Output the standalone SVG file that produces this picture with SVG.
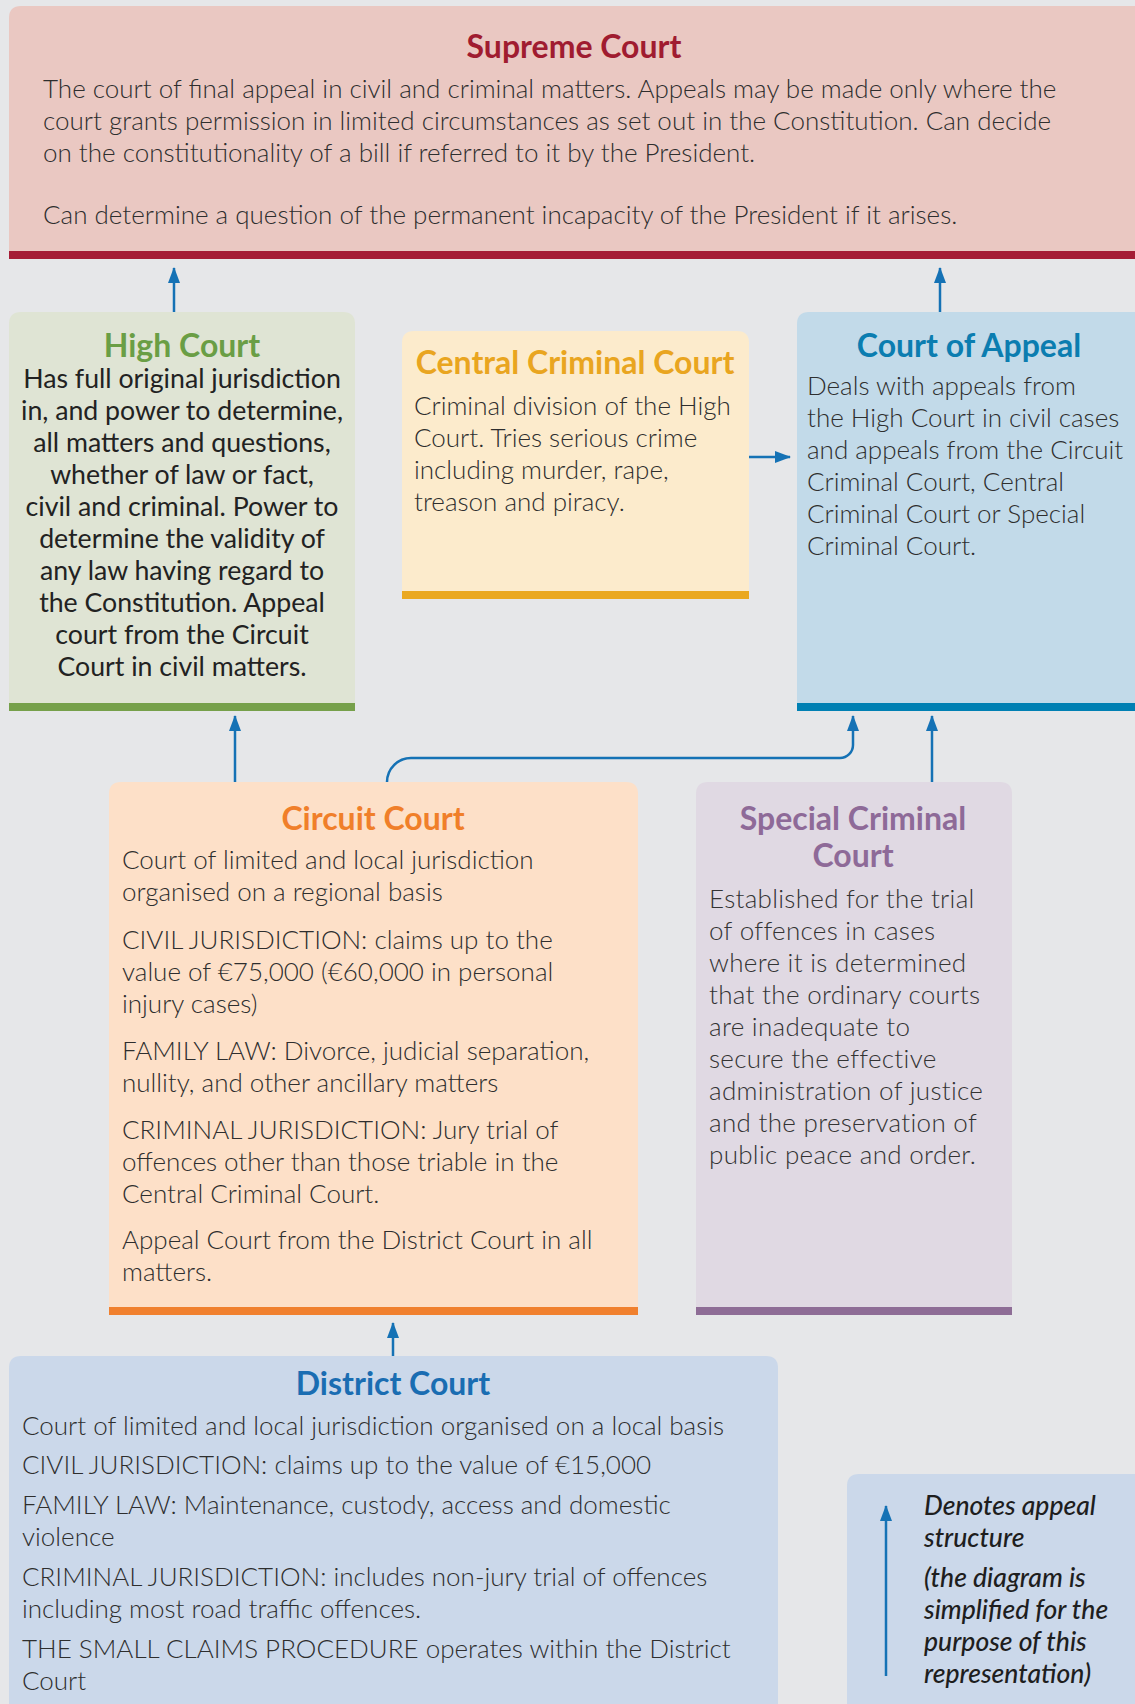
<svg xmlns="http://www.w3.org/2000/svg" width="1135" height="1704" viewBox="0 0 1135 1704">
<defs>
<marker id="ah" viewBox="0 0 16 12" refX="15" refY="6" markerWidth="16" markerHeight="12" markerUnits="userSpaceOnUse" orient="auto"><path d="M0,0 L16,6 L0,12 z" fill="#1572b5"/></marker>
<style>
.t{font-family:Lato,"Open Sans",sans-serif;font-weight:700;font-size:32px;text-anchor:middle}
.b{font-family:Lato,"Open Sans",sans-serif;font-weight:300;font-size:26px;fill:#2e2e2e}
.hb{font-family:Lato,"Open Sans",sans-serif;font-weight:400;font-size:26.7px;fill:#222;text-anchor:middle}
.sb{font-family:Lato,"Open Sans",sans-serif;font-weight:300;font-size:26px;fill:#333;letter-spacing:0.3px}
.lg{font-family:Lato,"Open Sans",sans-serif;font-style:italic;font-weight:500;font-size:26.5px;fill:#1e1e1e}
.c{fill:none;stroke:#1572b5;stroke-width:2.5;marker-end:url(#ah)}
</style>
</defs>
<rect width="1135" height="1704" fill="#e6e7e9"/>
<g id="supreme">
<path d="M9,251 V18 Q9,6 21,6 H1135 V251 Z" fill="#eac8c2"/>
<rect x="9" y="251" width="1126" height="8" fill="#a51c35"/>
<text class="t" x="574" y="58" fill="#a01c30">Supreme Court</text>
<text class="b" x="43"><tspan x="43" y="98">The court of final appeal in civil and criminal matters. Appeals may be made only where the</tspan><tspan x="43" y="130">court grants permission in limited circumstances as set out in the Constitution. Can decide</tspan><tspan x="43" y="162">on the constitutionality of a bill if referred to it by the President.</tspan><tspan x="43" y="224">Can determine a question of the permanent incapacity of the President if it arises.</tspan></text>
</g>
<g id="high">
<path d="M9,703 V324 Q9,312 21,312 H343 Q355,312 355,324 V703 Z" fill="#dfe4d4"/>
<rect x="9" y="703" width="346" height="8" fill="#76a04a"/>
<text class="t" x="182" y="357" fill="#6a9e45">High Court</text>
<text class="hb"><tspan x="182" y="388">Has full original jurisdiction</tspan><tspan x="182" y="420">in, and power to determine,</tspan><tspan x="182" y="452">all matters and questions,</tspan><tspan x="182" y="484">whether of law or fact,</tspan><tspan x="182" y="516">civil and criminal. Power to</tspan><tspan x="182" y="548">determine the validity of</tspan><tspan x="182" y="580">any law having regard to</tspan><tspan x="182" y="612">the Constitution. Appeal</tspan><tspan x="182" y="644">court from the Circuit</tspan><tspan x="182" y="676">Court in civil matters.</tspan></text>
</g>
<g id="central">
<path d="M402,591 V343 Q402,331 414,331 H737 Q749,331 749,343 V591 Z" fill="#fcebcc"/>
<rect x="402" y="591" width="347" height="8" fill="#eaa820"/>
<text class="t" x="575" y="374" fill="#e9a520">Central Criminal Court</text>
<text class="b"><tspan x="414" y="415">Criminal division of the High</tspan><tspan x="414" y="447">Court. Tries serious crime</tspan><tspan x="414" y="479">including murder, rape,</tspan><tspan x="414" y="511">treason and piracy.</tspan></text>
</g>
<g id="appeal">
<path d="M797,703 V324 Q797,312 809,312 H1135 V703 Z" fill="#c2dae9"/>
<rect x="797" y="703" width="338" height="8" fill="#0080b3"/>
<text class="t" x="969" y="357" fill="#0b7db0">Court of Appeal</text>
<text class="b"><tspan x="807" y="395">Deals with appeals from</tspan><tspan x="807" y="427">the High Court in civil cases</tspan><tspan x="807" y="459">and appeals from the Circuit</tspan><tspan x="807" y="491">Criminal Court, Central</tspan><tspan x="807" y="523">Criminal Court or Special</tspan><tspan x="807" y="555">Criminal Court.</tspan></text>
</g>
<g id="circuit">
<path d="M109,1307 V794 Q109,782 121,782 H626 Q638,782 638,794 V1307 Z" fill="#fde0c8"/>
<rect x="109" y="1307" width="529" height="8" fill="#f0802e"/>
<text class="t" x="373" y="830" fill="#f07f2a">Circuit Court</text>
<text class="b"><tspan x="122" y="869">Court of limited and local jurisdiction</tspan><tspan x="122" y="901">organised on a regional basis</tspan><tspan x="122" y="949">CIVIL JURISDICTION: claims up to the</tspan><tspan x="122" y="981">value of €75,000 (€60,000 in personal</tspan><tspan x="122" y="1013">injury cases)</tspan><tspan x="122" y="1060">FAMILY LAW: Divorce, judicial separation,</tspan><tspan x="122" y="1092">nullity, and other ancillary matters</tspan><tspan x="122" y="1139">CRIMINAL JURISDICTION: Jury trial of</tspan><tspan x="122" y="1171">offences other than those triable in the</tspan><tspan x="122" y="1203">Central Criminal Court.</tspan><tspan x="122" y="1249">Appeal Court from the District Court in all</tspan><tspan x="122" y="1281">matters.</tspan></text>
</g>
<g id="special">
<path d="M696,1307 V794 Q696,782 708,782 H1000 Q1012,782 1012,794 V1307 Z" fill="#e0d9e3"/>
<rect x="696" y="1307" width="316" height="8" fill="#8e6d96"/>
<text class="t" fill="#8e6a98"><tspan x="853" y="830">Special Criminal</tspan><tspan x="853" y="867">Court</tspan></text>
<text class="sb"><tspan x="709" y="908">Established for the trial</tspan><tspan x="709" y="940">of offences in cases</tspan><tspan x="709" y="972">where it is determined</tspan><tspan x="709" y="1004">that the ordinary courts</tspan><tspan x="709" y="1036">are inadequate to</tspan><tspan x="709" y="1068">secure the effective</tspan><tspan x="709" y="1100">administration of justice</tspan><tspan x="709" y="1132">and the preservation of</tspan><tspan x="709" y="1164">public peace and order.</tspan></text>
</g>
<g id="district">
<path d="M9,1704 V1368 Q9,1356 21,1356 H766 Q778,1356 778,1368 V1704 Z" fill="#cbd8ea"/>
<text class="t" x="393" y="1395" fill="#1a6db2">District Court</text>
<text class="b"><tspan x="22" y="1435">Court of limited and local jurisdiction organised on a local basis</tspan><tspan x="22" y="1474">CIVIL JURISDICTION: claims up to the value of €15,000</tspan><tspan x="22" y="1514">FAMILY LAW: Maintenance, custody, access and domestic</tspan><tspan x="22" y="1546">violence</tspan><tspan x="22" y="1586">CRIMINAL JURISDICTION: includes non-jury trial of offences</tspan><tspan x="22" y="1618">including most road traffic offences.</tspan><tspan x="22" y="1658">THE SMALL CLAIMS PROCEDURE operates within the District</tspan><tspan x="22" y="1690">Court</tspan></text>
</g>
<g id="legend">
<path d="M847,1704 V1486 Q847,1474 859,1474 H1135 V1704 Z" fill="#cbd8ea"/>
<path class="c" d="M886,1676 V1506"/>
<text class="lg"><tspan x="924" y="1515">Denotes appeal</tspan><tspan x="924" y="1547">structure</tspan><tspan x="924" y="1587">(the diagram is</tspan><tspan x="924" y="1619">simplified for the</tspan><tspan x="924" y="1651">purpose of this</tspan><tspan x="924" y="1683">representation)</tspan></text>
</g>
<g id="connectors">
<path class="c" d="M174,312 V268"/>
<path class="c" d="M940,312 V268"/>
<path class="c" d="M749,457 H790"/>
<path class="c" d="M235,782 V716"/>
<path class="c" d="M387,782 A24,24 0 0 1 411,758 H840 A13,13 0 0 0 853,745 V716"/>
<path class="c" d="M932,782 V716"/>
<path class="c" d="M393,1356 V1323"/>
</g>
</svg>
